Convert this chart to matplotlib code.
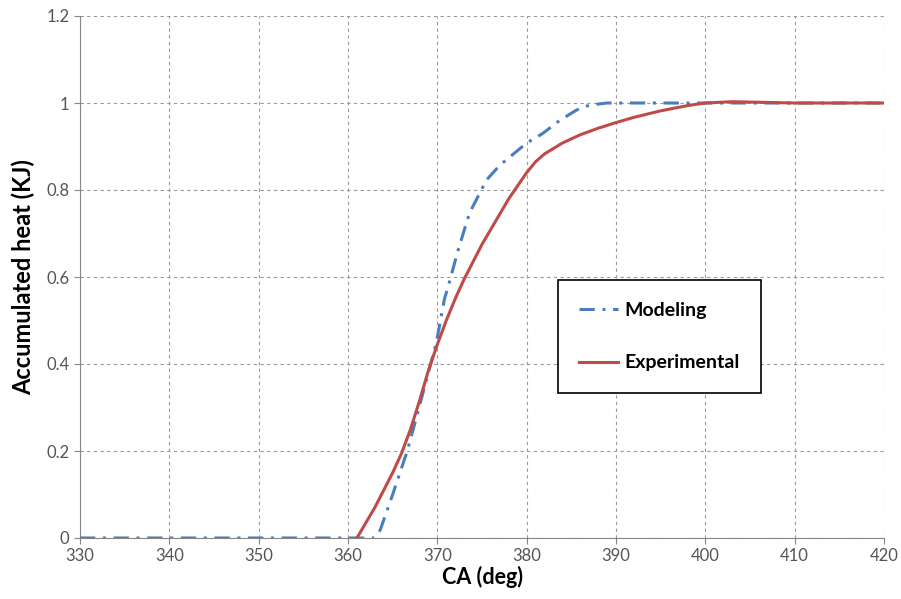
import matplotlib.pyplot as plt

# Modeling (dash-dot blue)
ca_model = [330, 340, 350, 360, 363, 363.6, 365, 366.6, 367.7, 369.9, 370.8,
            371.2, 372.3, 373.6, 375.5, 377, 380, 381.8, 383.7, 385.6, 387,
            389, 395, 400, 410, 420]
q_model = [0, 0, 0, 0, 0, 0.018, 0.10, 0.198, 0.28, 0.45, 0.55,
           0.577, 0.66, 0.747, 0.823, 0.857, 0.908, 0.93, 0.96, 0.984, 0.995,
           1.0, 1.0, 1.0, 1.0, 1.0]

# Experimental (solid red)
ca_exp = [361, 362, 363, 364, 365, 366, 367, 368, 369, 370, 371, 372, 373,
          374, 375, 376, 377, 378, 379, 380, 381, 382, 384, 386, 388, 390, 392,
          395, 398, 400, 403, 410, 420]
q_exp = [0, 0.035, 0.07, 0.11, 0.15, 0.195, 0.25, 0.315, 0.385, 0.445, 0.50,
         0.55, 0.595, 0.635, 0.675, 0.71, 0.745, 0.78, 0.81, 0.84, 0.865,
         0.883, 0.908, 0.927, 0.942, 0.955, 0.967, 0.982, 0.994, 1.0, 1.003,
         1.0, 1.0]

xticks = list(range(330, 421, 10))
yticks = [0, 0.2, 0.4, 0.6, 0.8, 1, 1.2]
yticklabels = ['0', '0.2', '0.4', '0.6', '0.8', '1', '1.2']

plt.rcParams['font.family'] = ['Lato', 'DejaVu Sans']

fig = plt.figure(figsize=(9.01, 5.99), dpi=100)
ax = fig.add_axes([80 / 901, 61 / 599, 804 / 901, 522 / 599])

ax.plot(ca_model, q_model, color='#4A7EBB', linewidth=2.2,
        dashes=(5, 2.5, 1, 2.5), label='Modeling', zorder=3)
ax.plot(ca_exp, q_exp, color='#BE4B48', linewidth=2.2,
        label='Experimental', zorder=4)

ax.set_xlim(330, 420)
ax.set_ylim(0, 1.2)
ax.set_xticks(xticks)
ax.set_yticks(yticks)
ax.set_yticklabels(yticklabels)

ax.grid(True, color='#9a9a9a', linestyle=(0, (3, 3)), linewidth=0.8)
ax.set_axisbelow(True)
for side in ['top', 'right']:
    ax.spines[side].set_visible(False)
for side in ['left', 'bottom']:
    ax.spines[side].set_color('#868686')
ax.tick_params(axis='both', colors='#868686', labelcolor='#555555',
               labelsize=12, length=4, direction='out')

ax.set_xlabel('CA (deg)', fontsize=15.5, fontweight='bold', labelpad=1)
ax.set_ylabel('Accumulated heat (KJ)', fontsize=17, fontweight='bold', labelpad=8)

leg = ax.legend(loc='upper left', bbox_to_anchor=(0.5945, 0.494, 0.2525, 0.0),
                mode='expand', prop={'weight': 'bold', 'size': 14},
                handlelength=2.0, handletextpad=0.3, labelspacing=1.85,
                borderpad=1.1, borderaxespad=0,
                fancybox=False, framealpha=1, edgecolor='black')
leg.get_frame().set_linewidth(1.2)

fig.savefig('out.png', dpi=100)
